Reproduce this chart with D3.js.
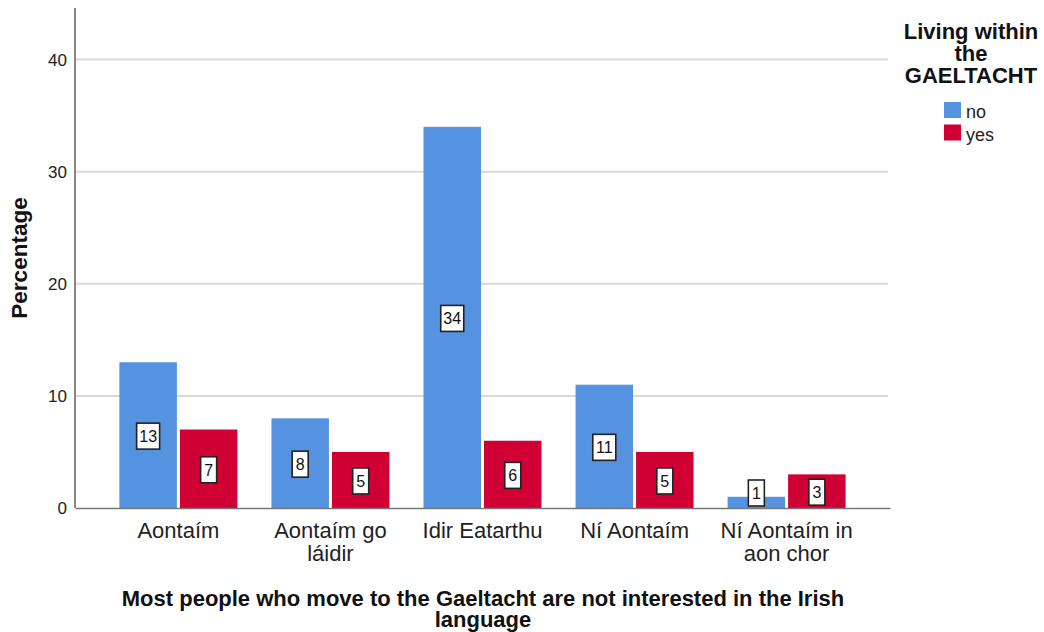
<!DOCTYPE html>
<html>
<head>
<meta charset="utf-8">
<script src="https://cdn.jsdelivr.net/npm/d3@7"></script>
<style>
  body { margin: 0; background: #fff; }
  svg { font-family: "Liberation Sans", Arial, sans-serif; }
</style>
</head>
<body>
<svg id="chart" width="1044" height="632"></svg>
<script>
// Response categories (x axis), one line per array entry
const categories = [
  ["Aontaím"],
  ["Aontaím go", "láidir"],
  ["Idir Eatarthu"],
  ["Ní Aontaím"],
  ["Ní Aontaím in", "aon chor"]
];
const seriesNames = ["no", "yes"];
const noValues = [13, 8, 34, 11, 1];
const yesValues = [7, 5, 6, 5, 3];
const yTicks = [0, 10, 20, 30, 40];
const colors = ["#5592e0", "#d10034"];

const svg = d3.select("#chart");
const plotLeft = 75, plotRight = 890, plotTop = 8, plotBottom = 508;

const keys = categories.map((c, i) => i);
const x = d3.scaleBand().domain(keys).range([plotLeft, plotRight]).paddingOuter(0.18).paddingInner(0);
const y = d3.scaleLinear().domain([0, 44.6]).range([plotBottom, plotTop]);
const inner = d3.scaleBand().domain(seriesNames).range([0, 118]).paddingInner(0.05);

// gridlines
svg.append("g").selectAll("line").data(yTicks.filter(t => t > 0)).join("line")
  .attr("x1", plotLeft).attr("x2", plotRight - 2)
  .attr("y1", d => y(d)).attr("y2", d => y(d))
  .attr("stroke", "#d9d9d9").attr("stroke-width", 2);

// bars
const rows = keys.map(i => ({ i, vals: [noValues[i], yesValues[i]] }));
const groups = svg.append("g").selectAll("g").data(rows).join("g")
  .attr("transform", d => `translate(${x(d.i) + x.bandwidth() / 2 - 59},0)`);

groups.selectAll("rect").data(d => d.vals.map((v, k) => ({ v, k }))).join("rect")
  .attr("x", d => inner(seriesNames[d.k]))
  .attr("width", inner.bandwidth())
  .attr("y", d => y(d.v))
  .attr("height", d => y(0) - y(d.v))
  .attr("fill", d => colors[d.k]);

// value labels in boxes, centred on the bar
const lbl = groups.selectAll("g.lbl").data(d => d.vals.map((v, k) => ({ v, k }))).join("g")
  .attr("class", "lbl")
  .attr("transform", d => {
    const cx = inner(seriesNames[d.k]) + inner.bandwidth() / 2;
    const cy = (y(d.v) + y(0)) / 2 + 1;
    return `translate(${cx},${Math.min(cy, plotBottom - 15)})`;
  });
lbl.append("rect")
  .attr("x", d => String(d.v).length > 1 ? -11.5 : -8)
  .attr("width", d => String(d.v).length > 1 ? 23 : 16)
  .attr("y", -13).attr("height", 26)
  .attr("fill", "#fff").attr("stroke", "#222").attr("stroke-width", 1.6);
lbl.append("text").text(d => d.v)
  .attr("text-anchor", "middle").attr("dy", "0.36em")
  .attr("font-size", 16).attr("fill", "#111");

// y axis
const yAxis = d3.axisLeft(y).tickValues(yTicks).tickSize(0).tickPadding(8);
const ya = svg.append("g").attr("transform", `translate(${plotLeft},0)`).call(yAxis);
ya.select(".domain").attr("stroke", "#888").attr("stroke-width", 2)
  .attr("d", `M0,${plotTop}V${plotBottom}`);
ya.selectAll("text").attr("font-size", 17).attr("fill", "#222")
  .attr("font-family", "Liberation Sans, Arial, sans-serif");

// x axis
const xa = svg.append("g").attr("transform", `translate(0,${plotBottom})`)
  .call(d3.axisBottom(x).tickSize(0).tickFormat(""));
xa.select(".domain").attr("stroke", "#777").attr("stroke-width", 1.5);
xa.selectAll(".tick").each(function (d) {
  const t = d3.select(this).select("text").text(null)
    .attr("font-size", 22).attr("fill", "#222").attr("dy", 0).attr("y", 0)
    .attr("font-family", "Liberation Sans, Arial, sans-serif");
  categories[d].forEach((line, j) => {
    t.append("tspan").attr("x", 0).attr("y", 30 + j * 23).text(line);
  });
});

// axis titles
svg.append("text").attr("transform", `translate(27,258) rotate(-90)`)
  .attr("text-anchor", "middle").attr("font-size", 22.5).attr("font-weight", "bold")
  .attr("fill", "#111").text("Percentage");

const xt = svg.append("text").attr("text-anchor", "middle").attr("font-size", 22)
  .attr("font-weight", "bold").attr("fill", "#111");
xt.append("tspan").attr("x", 483).attr("y", 606)
  .text("Most people who move to the Gaeltacht are not interested in the Irish");
xt.append("tspan").attr("x", 483).attr("y", 627).text("language");

// legend
const lt = svg.append("text").attr("text-anchor", "middle").attr("font-size", 22)
  .attr("font-weight", "bold").attr("fill", "#111");
["Living within", "the", "GAELTACHT"].forEach((s, j) => {
  lt.append("tspan").attr("x", 971).attr("y", 39 + j * 22).text(s);
});
const leg = svg.append("g").selectAll("g").data(seriesNames).join("g")
  .attr("transform", (d, i) => `translate(944,${102 + i * 22.5})`);
leg.append("rect").attr("width", 17).attr("height", 16).attr("fill", (d, i) => colors[i]);
leg.append("text").attr("x", 22).attr("y", 16).attr("font-size", 18).attr("fill", "#222").text(d => d);
</script>
</body>
</html>
